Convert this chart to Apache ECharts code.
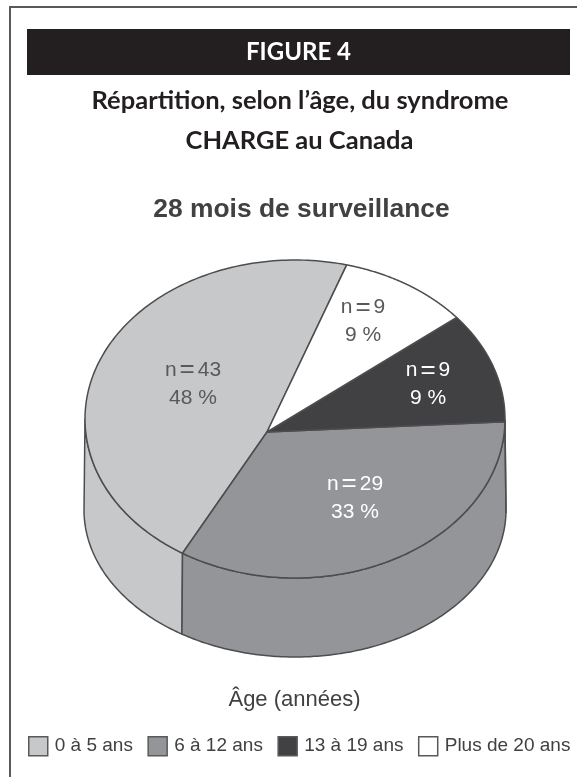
<!DOCTYPE html>
<html>
<head>
<meta charset="utf-8">
<style>html,body{margin:0;padding:0;background:#fff}#c{width:577px;height:777px}</style>
<script src="https://cdn.jsdelivr.net/npm/echarts@6/dist/echarts.min.js"></script>
</head>
<body>
<div id="c"></div>
<script>
var categories = ['0 à 5 ans', '6 à 12 ans', '13 à 19 ans', 'Plus de 20 ans'];
var counts = [43, 29, 9, 9];
var percents = [48, 33, 9, 9];
// share of the disc each slice covers, as measured on the picture
var sliceShares = [47.8, 33.8, 9.7, 8.7];
var colors = ['#c7c8ca', '#939598', '#414042', '#ffffff'];
var labelColors = ['#58595b', '#ffffff', '#ffffff', '#58595b'];
var labelOffsets = [[-74, -48], [88, 66], [161, -47.5], [96, -110.5]];
var line = '#4d4d4f';

// drawing of the tilted disc
var top3d = {cx: 295, cy: 419, rx: 210, ry: 159};
var bottom3d = {cx: 295, cy: 510, rx: 211, ry: 147};
var apex = {x: 267, y: 432};
var startAngle = 290.2; // slices run counter-clockwise from here

var total = sliceShares.reduce(function (a, b) { return a + b; }, 0);
var p = {x: (apex.x - top3d.cx) / top3d.rx, y: (apex.y - top3d.cy) / top3d.ry};
var beta = Math.hypot(p.x, p.y);
var ux = p.x / beta, uy = p.y / beta;
var gam = Math.sqrt(1 - beta * beta);

// disc angle (degrees) to a point on the unit circle seen in perspective
function rim(deg) {
  var a = deg * Math.PI / 180, x = Math.cos(a), y = Math.sin(a);
  var c = x * ux + y * uy, s = -x * uy + y * ux;
  var d = 1 + beta * c;
  var c2 = (c + beta) / d, s2 = s * gam / d;
  return {x: c2 * ux - s2 * uy, y: c2 * uy + s2 * ux};
}
function on(e, n) { return [e.cx + n.x * e.rx, e.cy + n.y * e.ry]; }

function arc(i) {
  var before = 0;
  for (var k = 0; k < i; k++) before += sliceShares[k];
  var a0 = startAngle - before / total * 360;
  var a1 = startAngle - (before + sliceShares[i]) / total * 360;
  var pts = [], n = 160;
  for (var j = 0; j <= n; j++) pts.push(rim(a0 + (a1 - a0) * j / n));
  return pts;
}

function renderSlice(params, api) {
  var i = params.seriesIndex;
  var pts = arc(i);
  var children = [];
  var front = pts.filter(function (q) { return q.y >= 0; });
  if (front.length > 1) {
    var wall = front.map(function (q) { return on(top3d, q); })
      .concat(front.slice().reverse().map(function (q) { return on(bottom3d, q); }));
    children.push({type: 'polygon', shape: {points: wall},
      style: {fill: colors[i], stroke: line, lineWidth: 1.5, lineJoin: 'round'}});
  }
  var face = [[apex.x, apex.y]].concat(pts.map(function (q) { return on(top3d, q); }));
  children.push({type: 'polygon', shape: {points: face},
    style: {fill: colors[i], stroke: line, lineWidth: 1.5, lineJoin: 'round'}});
  var col = labelColors[i];
  var base = {fill: col, fontSize: 21, fontFamily: 'Liberation Sans', lineHeight: 28};
  children.push({
    type: 'text',
    x: apex.x + labelOffsets[i][0],
    y: apex.y + labelOffsets[i][1],
    style: {
      text: '{a|n}{e|=}{a|' + counts[i] + '}\n{a|' + percents[i] + ' %}',
      align: 'center', verticalAlign: 'middle',
      rich: {
        a: base,
        e: {fill: col, fontSize: 26, fontFamily: 'Liberation Sans', lineHeight: 28, padding: [0, 3, 0, 3]}
      }
    }
  });
  return {type: 'group', children: children};
}

var seriesList = categories.map(function (name, i) {
  return {
    type: 'custom',
    name: name,
    coordinateSystem: 'none',
    renderItem: renderSlice,
    data: [[sliceShares[i]]],
    itemStyle: {color: colors[i], borderColor: line, borderWidth: 1.5},
    animation: false,
    silent: true
  };
});

function heading(text, x, y, size, weight, family, color) {
  return {
    text: text, left: x, top: y, textAlign: 'center', textVerticalAlign: 'middle', padding: 0,
    textStyle: {fontSize: size, fontWeight: weight, fontFamily: family, color: color}
  };
}

var chart = echarts.init(document.getElementById('c'), null, {renderer: 'canvas'});
chart.setOption({
  backgroundColor: '#ffffff',
  animation: false,
  graphic: [
    {type: 'line', z: 0, shape: {x1: 10, y1: 7, x2: 577, y2: 7}, style: {stroke: '#58595b', lineWidth: 2}},
    {type: 'line', z: 0, shape: {x1: 10, y1: 6, x2: 10, y2: 777}, style: {stroke: '#58595b', lineWidth: 2}},
    {type: 'rect', z: 0, shape: {x: 27, y: 29, width: 543, height: 46}, style: {fill: '#231f20'}}
  ],
  title: [
    heading('FIGURE 4', 298.5, 52.5, 24, 700, 'Lato', '#ffffff'),
    heading('Répartition, selon l’âge, du syndrome', 300, 100.5, 25.5, 700, 'Lato', '#231f20'),
    heading('CHARGE au Canada', 299.5, 140.5, 25.5, 700, 'Lato', '#231f20'),
    heading('28 mois de surveillance', 301.5, 209.5, 26.4, 700, 'Liberation Sans', '#414042'),
    heading('Âge (années)', 294.5, 700, 22, 400, 'Liberation Sans', '#414042')
  ],
  legend: {
    left: 28, top: 736, padding: 0, orient: 'horizontal',
    itemWidth: 19, itemHeight: 19, itemGap: 14.5, icon: 'rect', selectedMode: false,
    textStyle: {fontSize: 19, fontFamily: 'Liberation Sans', color: '#414042', padding: [0, 0, 0, 2]},
    data: categories.map(function (name, i) {
      return {name: name, icon: 'rect',
        itemStyle: {color: colors[i], borderColor: '#58595b', borderWidth: 1.5}};
    })
  },
  series: seriesList
});
</script>
</body>
</html>
